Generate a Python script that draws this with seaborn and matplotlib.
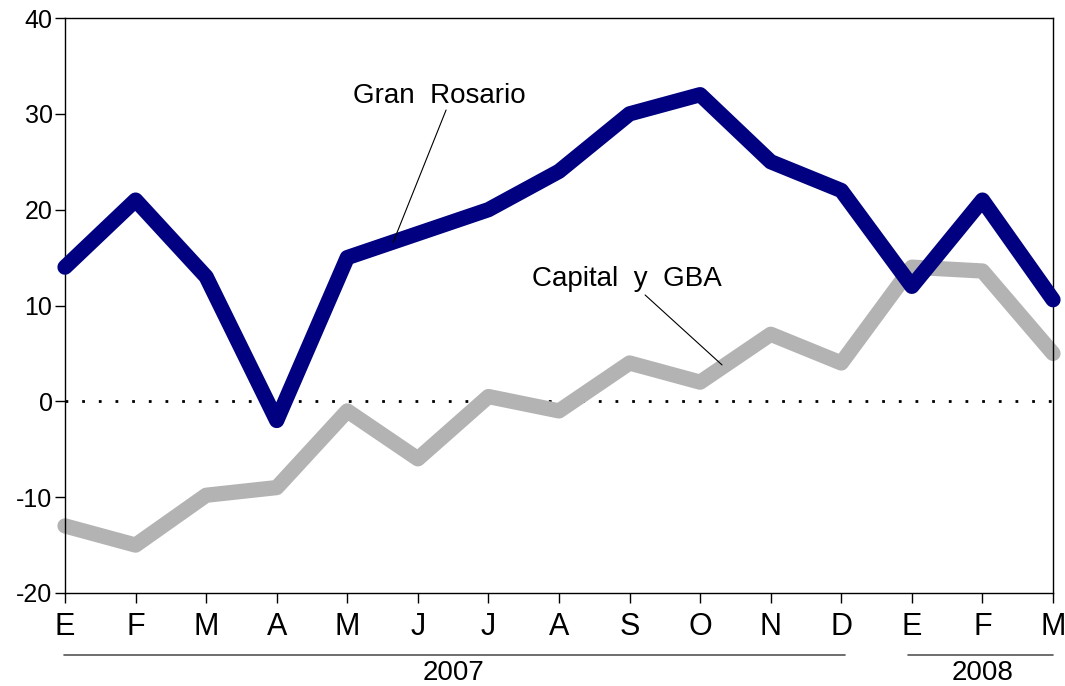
import numpy as np
import pandas as pd
import matplotlib
matplotlib.use('Agg')
import matplotlib.pyplot as plt
import seaborn as sns

months = ['E', 'F', 'M', 'A', 'M', 'J', 'J', 'A', 'S', 'O', 'N', 'D', 'E', 'F', 'M']
gran_rosario = [14, 21, 13, -2, 15, 17.5, 20, 24, 30, 32, 25, 22, 12, 21, 10.6]
capital_gba = [-13, -15, -9.8, -9, -1, -6, 0.5, -1, 4, 2, 7, 4, 14, 13.6, 5]
years = ['2007', '2008']

df = pd.DataFrame({
    'x': np.arange(len(months)),
    'Gran Rosario': gran_rosario,
    'Capital y GBA': capital_gba,
})

sns.set_style('white')
plt.rcParams['font.family'] = ['Liberation Sans', 'DejaVu Sans']
plt.rcParams['text.color'] = 'black'
plt.rcParams['xtick.color'] = 'black'
plt.rcParams['ytick.color'] = 'black'

fig = plt.figure(figsize=(10.65, 6.86), dpi=100)
ax = fig.add_axes([65 / 1065, 93 / 686, 988 / 1065, 575 / 686])

ax.axhline(0, color='black', lw=2, linestyle=(0, (1, 5)), zorder=1)

sns.lineplot(data=df, x='x', y='Capital y GBA', ax=ax, color='#b3b3b3', lw=11,
             solid_joinstyle='round', solid_capstyle='round', clip_on=False, zorder=2)
sns.lineplot(data=df, x='x', y='Gran Rosario', ax=ax, color='#000080', lw=11,
             solid_joinstyle='round', solid_capstyle='round', clip_on=False, zorder=3)

ax.set_xlim(0, len(months) - 1)
ax.set_ylim(-20, 40)
ax.set_yticks(range(-20, 41, 10))
ax.set_yticklabels([str(v) for v in range(-20, 41, 10)], fontsize=18)
ax.set_xticks(df['x'])
ax.set_xticklabels(months, fontsize=22)
ax.set_xlabel('')
ax.set_ylabel('')
ax.tick_params(axis='both', direction='out', length=7, width=1,
               left=True, bottom=True)
ax.tick_params(axis='x', pad=7)
ax.tick_params(axis='y', pad=2)
for s in ax.spines.values():
    s.set_color('black')
    s.set_linewidth(1)

# labels with leader lines
ax.text(5.31, 31.9, 'Gran  Rosario', fontsize=20, ha='center', va='center')
ax.plot([5.40, 4.65], [30.4, 16.6], color='black', lw=0.8, zorder=4)
ax.text(7.96, 12.8, 'Capital  y  GBA', fontsize=20, ha='center', va='center')
ax.plot([8.22, 9.31], [11.1, 3.8], color='black', lw=0.8, zorder=4)

# year brackets under the month labels
trans = ax.get_xaxis_transform()
ax.plot([-0.02, 11.05], [-0.108, -0.108], transform=trans, color='#555555', lw=1.2, clip_on=False)
ax.plot([11.95, 14.0], [-0.108, -0.108], transform=trans, color='#555555', lw=1.2, clip_on=False)
ax.text(5.5, -0.14, years[0], transform=trans, fontsize=20, ha='center', va='center')
ax.text(13.0, -0.14, years[1], transform=trans, fontsize=20, ha='center', va='center')

fig.savefig('out.png', dpi=100)
